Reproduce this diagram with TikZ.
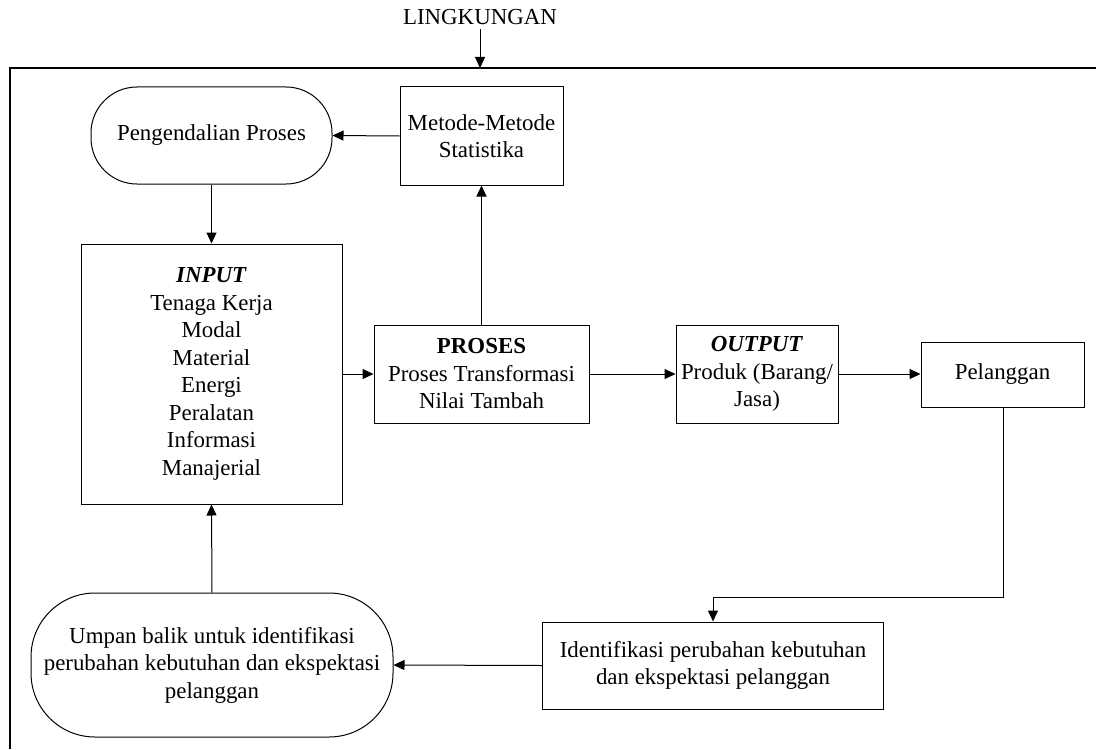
\documentclass[tikz,border=0pt]{standalone}
\usepackage{fontspec}
\setmainfont{Liberation Serif}
\usetikzlibrary{arrows.meta}

\begin{document}
\begin{tikzpicture}[x=0.5pt, y=-0.5pt,
		every node/.style={font=\fontsize{11.45}{13.75}\selectfont, align=center, inner sep=2pt},
		box/.style={draw, line width=0.5pt},
		pill/.style={draw, line width=0.5pt},
		arr/.style={line width=0.5pt, -{Triangle[length=5.5pt, width=5pt]}}]
		
		\useasboundingbox (0,0) rectangle (1096,749);
		
		\draw[line width=0.6pt] (10,749) -- (10,68) -- (1096,68);
		\node (lingk) at (480,17) {LINGKUNGAN};
		\coordinate (frametop) at (480,68);
		
		\node[pill, rounded corners=23pt, minimum width=120.5pt, minimum height=48.5pt] (kendali) at (211.5,135.5) {Pengendalian Proses};
		\node[box, minimum width=81.5pt, minimum height=49pt] (metode) at (481.5,136) {Metode-Metode\\Statistika};
		
		\node[box, minimum width=130.5pt, minimum height=130pt] (input) at (211.5,374) {\textbf{\textit{INPUT}}\\Tenaga Kerja\\Modal\\Material\\Energi\\Peralatan\\Informasi\\Manajerial};
		\node[box, minimum width=107.5pt, minimum height=49pt] (proses) at (481.5,374) {\textbf{PROSES}\\Proses Transformasi\\Nilai Tambah};
		\node[box, minimum width=81pt, minimum height=49pt] (output) at (757,374) {\textbf{\textit{OUTPUT}}\\Produk (Barang/\\Jasa)};
		\node[box, minimum width=81.5pt, minimum height=32.5pt] (pelanggan) at (1002.5,374.5) {Pelanggan};
		
		\node[box, minimum width=170.5pt, minimum height=43.5pt] (identif) at (713,665.5) {Identifikasi perubahan kebutuhan\\dan ekspektasi pelanggan};
		\node[pill, rounded corners=32pt, minimum width=181pt, minimum height=72pt] (umpan) at (212,665) {Umpan balik untuk identifikasi\\perubahan kebutuhan dan ekspektasi\\pelanggan};
		\coordinate (belok) at (1003,597);
		
		\draw[arr] (lingk.south) -- (frametop);
		\draw[arr] (metode.west) -- (kendali.east);
		\draw[arr] (kendali.south) -- (input.north);
		\draw[arr] (input.east |- proses.west) -- (proses.west);
		\draw[arr] (proses.north) -- (metode.south);
		\draw[arr] (proses.east) -- (output.west);
		\draw[arr] (output.east) -- (pelanggan.west |- output.east);
		\draw[arr] (pelanggan.south -| belok) -- (belok) -| (identif.north);
		\draw[arr] (identif.west) -- (umpan.east);
		\draw[arr] (umpan.north) -- (input.south);
		
\end{tikzpicture}
\end{document}
